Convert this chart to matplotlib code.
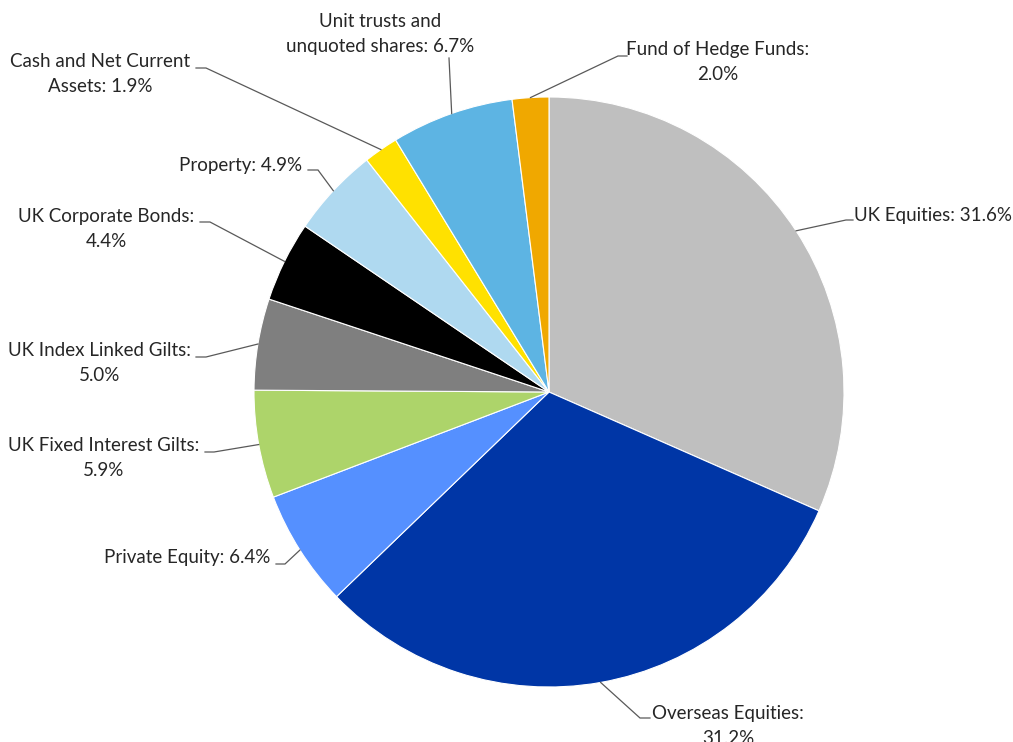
import numpy as np
import matplotlib
matplotlib.use("Agg")
import matplotlib.pyplot as plt

plt.rcParams['font.family'] = ['Lato', 'DejaVu Sans']

# asset allocation, clockwise from 12 o'clock
labels = ["UK Equities", "Overseas Equities", "Private Equity",
          "UK Fixed Interest Gilts", "UK Index Linked Gilts",
          "UK Corporate Bonds", "Property", "Cash and Net Current Assets",
          "Unit trusts and unquoted shares", "Fund of Hedge Funds"]
shares = [31.6, 31.2, 6.4, 5.9, 5.0, 4.4, 4.9, 1.9, 6.7, 2.0]
colors = ["#BFBFBF", "#0036A6", "#5590FF", "#ADD46A", "#7F7F7F",
          "#000000", "#AFD9F0", "#FFE100", "#5DB4E3", "#F0A800"]

# label text as laid out (line breaks where the label wraps)
label_text = [
    "UK Equities: 31.6%",
    "Overseas Equities:\n31.2%",
    "Private Equity: 6.4%",
    "UK Fixed Interest Gilts:\n5.9%",
    "UK Index Linked Gilts:\n5.0%",
    "UK Corporate Bonds:\n4.4%",
    "Property: 4.9%",
    "Cash and Net Current\nAssets: 1.9%",
    "Unit trusts and\nunquoted shares: 6.7%",
    "Fund of Hedge Funds:\n2.0%",
]

W, H = 1013, 742
cx, cy, R = 549, H - 392, 295

# text block centre, elbow of leader line, end of leader line (pixels from top-left)
layout = [
    ((933, 215), (846, 220), (853, 220)),
    ((728, 726), (640, 718), (650, 718)),
    ((187, 558), (285, 564), (276, 564)),
    ((104, 458), (214, 452), (205, 452)),
    ((100, 363), (206, 357), (196, 357)),
    ((106, 229), (210, 222), (200, 222)),
    ((241, 165), (318, 170), (308, 170)),
    ((100, 74), (206, 68), (196, 68)),
    ((380, 34), (449, 58), (449, 58)),
    ((718, 62), (618, 56), (627, 56)),
]

fig = plt.figure(figsize=(W / 100, H / 100), dpi=100)
ax = fig.add_axes([0, 0, 1, 1])

ax.pie(shares, colors=colors, startangle=90, counterclock=False,
       radius=R, center=(cx, cy),
       wedgeprops=dict(edgecolor='white', linewidth=0.8))
ax.set_xlim(0, W)
ax.set_ylim(0, H)
ax.set_aspect('equal')
ax.axis('off')

cum = np.cumsum([0] + shares[:-1])
total = sum(shares)
for i, val in enumerate(shares):
    mid = (cum[i] + val / 2) / total
    ang = np.deg2rad(90 - 360 * mid)
    px, py = cx + R * np.cos(ang), cy + R * np.sin(ang)
    (tx, ty), (ex, ey), (lx, ly) = layout[i]
    ax.plot([px, ex, lx], [py, H - ey, H - ly], color='#595959', lw=0.9,
            solid_joinstyle='miter')
    ax.text(tx, H - ty, label_text[i], ha='center', va='center',
            multialignment='center', fontsize=13.5, color='#262626',
            linespacing=1.55)

fig.savefig("out.png", dpi=100)
